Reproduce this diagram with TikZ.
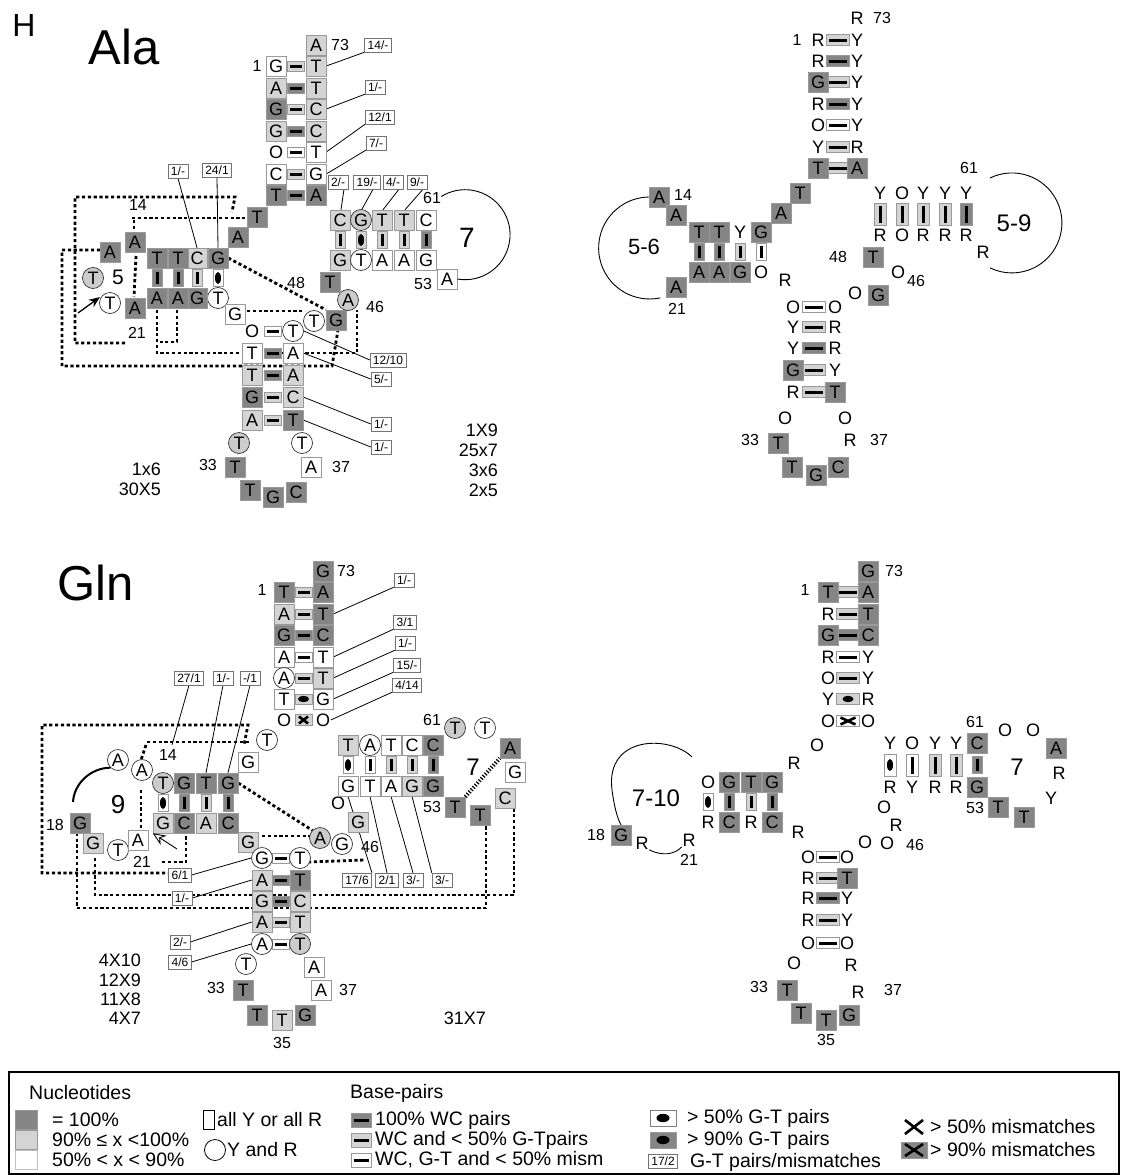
\documentclass[tikz,border=0pt]{standalone}
\usepackage{fontspec}
\setmainfont{Liberation Sans}
\usetikzlibrary{arrows.meta, positioning, backgrounds}

\newcommand\ntf{\fontsize{18}{18}\selectfont}
\newcommand\numf{\fontsize{16}{16}\selectfont}
\newcommand\annf{\fontsize{12}{12}\selectfont}
\newcommand\cntf{\fontsize{18}{18}\selectfont}
\newcommand\loopf{\fontsize{24}{24}\selectfont}
\newcommand\titf{\fontsize{49}{49}\selectfont}
\newcommand\lgdf{\fontsize{19.5}{19.5}\selectfont}

\begin{document}
\begin{tikzpicture}[x=1pt, y=-1pt,
    nt/.style={rectangle, minimum size=20pt, inner sep=0pt, font=\ntf, draw=black!40, line width=0.5pt},
    ntd/.style={nt, fill=black!48},
    ntl/.style={nt, fill=black!17},
    ntw/.style={nt, fill=white},
    ntc/.style={circle, minimum size=21pt, inner sep=0pt, font=\ntf, draw=black!80, line width=0.7pt, fill=white},
    ntcl/.style={ntc, fill=black!20},
    ntp/.style={inner sep=0.5pt, font=\ntf},
    bd/.style={fill=black!48}, bl/.style={fill=black!17}, bw/.style={fill=white},
    bbox/.style={rectangle, inner sep=0pt, draw=black!40, line width=0.5pt},
    bh/.style={bbox, minimum width=17pt, minimum height=10pt,
        path picture={\draw[black, line width=3pt] ([xshift=2.5pt]path picture bounding box.west) -- ([xshift=-2.5pt]path picture bounding box.east);}},
    bhw/.style={bh, minimum width=23pt, minimum height=11pt},
    bv/.style={bbox, minimum width=10pt, minimum height=17pt,
        path picture={\draw[black, line width=3pt] ([yshift=-2.5pt]path picture bounding box.north) -- ([yshift=2.5pt]path picture bounding box.south);}},
    bvw/.style={bv, minimum width=12pt, minimum height=22pt},
    gh/.style={bbox, minimum width=17pt, minimum height=10pt,
        path picture={\fill[black] (path picture bounding box.center) ellipse [x radius=5.5pt, y radius=3.2pt];}},
    ghw/.style={gh, minimum width=23pt, minimum height=11pt},
    ghl/.style={bbox, minimum width=26pt, minimum height=16pt,
        path picture={\fill[black] (path picture bounding box.center) ellipse [x radius=6.5pt, y radius=4.2pt];}},
    gv/.style={bbox, minimum width=10pt, minimum height=17pt,
        path picture={\fill[black] (path picture bounding box.center) ellipse [x radius=3pt, y radius=6pt];}},
    gvw/.style={gv, minimum width=12pt, minimum height=22pt},
    xh/.style={bbox, minimum width=17pt, minimum height=11pt,
        path picture={\draw[black, line width=2.6pt] ([shift={(4pt,-2pt)}]path picture bounding box.north west) -- ([shift={(-4pt,2pt)}]path picture bounding box.south east)
            ([shift={(4pt,2pt)}]path picture bounding box.south west) -- ([shift={(-4pt,-2pt)}]path picture bounding box.north east);}},
    xhw/.style={xh, minimum width=23pt},
    ann/.style={rectangle, draw=black!55, fill=white, font=\annf, inner xsep=3pt, inner ysep=1.5pt, minimum height=14pt, line width=0.5pt},
    num/.style={font=\numf, inner sep=0pt},
    cnt/.style={font=\cntf, inner sep=0pt, anchor=east},
    lpn/.style={font=\loopf, inner sep=0pt},
    lgd/.style={font=\lgdf, inner sep=0pt, anchor=west},
    tert/.style={line width=2.8pt, dash pattern=on 3.2pt off 2.6pt, black},
    lead/.style={line width=0.8pt}
]
\useasboundingbox (0,0) rectangle (1124,1175);

% ================= Ala, sequences =================
\node[font=\fontsize{32}{32}\selectfont, inner sep=0pt] (hPanel) at (24,25) {H};
\node[font=\titf, inner sep=0pt] (aTitle) at (124,47) {Ala};

% acceptor stem
\node[ntl] (aAc0) at (316,45) {A};
\node[num] (aN73) at (340,45) {73};
\node[num] (aN1) at (257,66) {1};
\foreach \i/\y/\ltA/\stA/\fl/\ltB/\stB in {1/66/G/ntw/bl/T/ntl, 2/88/A/ntl/bd/T/ntl, 3/109/G/ntd/bl/C/ntl, 4/131/G/ntl/bd/C/ntl, 5/152/O/ntp/bw/T/ntw, 6/174/C/ntw/bl/G/ntw, 7/195/T/ntd/bd/A/ntd} {
    \node[bh, \fl] (aAcB\i) at (296,\y) {};
    \node[\stA] (aAcL\i) at (276,\y) {\ltA};
    \node[\stB] (aAcR\i) at (316,\y) {\ltB};
}
\node[ann] (aK1) at (378,45) {14/-};
\node[ann] (aK2) at (375,87) {1/-};
\node[ann] (aK3) at (380,117) {12/1};
\node[ann] (aK4) at (376,143) {7/-};

% 8-9
\node[ntd] (aS8) at (257,217) {T};
\node[ntd] (aS9) at (238,237) {A};

% D stem
\foreach \i/\x/\ltA/\stA/\ty/\fl/\ltB/\stB in {1/218/G/ntd/gv/bw/T/ntc, 2/197/C/ntl/bv/bl/G/ntd, 3/178/T/ntd/bv/bd/A/ntd, 4/157/T/ntd/bv/bd/A/ntd} {
    \node[\ty, \fl] (aDB\i) at (\x,278) {};
    \node[\stA] (aDT\i) at (\x,258) {\ltA};
    \node[\stB] (aDL\i) at (\x,298) {\ltB};
}
\node[ann] (aK5) at (178,171) {1/-};
\node[ann] (aK6) at (217,170) {24/1};

% D loop
\node[ntd] (aD14) at (135,242) {A};
\node[ntd] (aD15) at (110,252) {A};
\node[ntcl] (aD16) at (93,278) {T};
\node[ntc] (aD17) at (110,303) {T};
\node[ntd] (aD21) at (135,308) {A};
\node[num] (aN14) at (138,205) {14};
\node[lpn, font=\fontsize{21}{21}\selectfont] (aN5) at (118,277) {5};
\node[num] (aN21) at (137,333) {21};
\coordinate (aArr) at (78,313);
\draw[-{Stealth[length=11pt, width=9pt]}, line width=1.3pt, shorten >=3pt] (aArr) -- (aD17.north west);
\node[ntw] (aG26) at (235,314) {G};

% anticodon stem
\foreach \i/\y/\ltA/\stA/\fl/\ltB/\stB in {1/331/O/ntp/bw/T/ntc, 2/353/T/ntw/bd/A/ntw, 3/375/T/ntl/bd/A/ntl, 4/397/G/ntd/bl/C/ntl, 5/420/A/ntl/bl/T/ntd} {
    \node[bh, \fl] (aCB\i) at (272.5,\y) {};
    \node[\stA] (aCL\i) at (252,\y) {\ltA};
    \node[\stB] (aCR\i) at (293,\y) {\ltB};
}
\node[ann] (aK7) at (388,360) {12/10};
\node[ann] (aK8) at (381,379) {5/-};
\node[ann] (aK9) at (381,424) {1/-};
\node[ann] (aK10) at (381,447) {1/-};

% anticodon loop
\node[ntcl] (aL32) at (239,443) {T};
\node[ntd] (aL33) at (235,467) {T};
\node[ntd] (aL34) at (250,490) {T};
\node[ntd] (aL35) at (273,497) {G};
\node[ntd] (aL36) at (296,492) {C};
\node[ntw] (aL37) at (311,467) {A};
\node[ntc] (aL38) at (302,443) {T};
\node[num] (aN33) at (208,465) {33};
\node[num] (aN37) at (341,467) {37};

\node[cnt] (aC1) at (161,469) {1x6};
\node[cnt] (aC2) at (161,489) {30X5};
\node[cnt] (aC3) at (498,430) {1X9};
\node[cnt] (aC4) at (498,450) {25x7};
\node[cnt] (aC5) at (498,470) {3x6};
\node[cnt] (aC6) at (498,490) {2x5};

% variable loop
\node[ntc] (aV44) at (314,321) {T};
\node[ntd] (aV45) at (336,320) {G};
\node[ntcl] (aV46) at (348,300) {A};
\node[ntd] (aV48) at (330,282) {T};
\node[num] (aN46) at (375,307) {46};
\node[num] (aN48) at (296,283) {48};

% T stem and loop
\foreach \i/\x/\ltA/\stA/\ty/\fl/\ltB/\stB in {1/340/C/ntl/bv/bl/G/ntl, 2/361/G/ntcl/gv/bl/T/ntc, 3/382/T/ntl/bv/bl/A/ntw, 4/404/T/ntl/bv/bl/A/ntw, 5/426/C/ntw/bv/bd/G/ntw} {
    \node[\ty, \fl] (aTB\i) at (\x,240) {};
    \node[\stA] (aTT\i) at (\x,220) {\ltA};
    \node[\stB] (aTL\i) at (\x,260) {\ltB};
}
\node[ann] (aK11) at (338,182) {2/-};
\node[ann] (aK12) at (367,182) {19/-};
\node[ann] (aK13) at (393,182) {4/-};
\node[ann] (aK14) at (417,182) {9/-};
\node[ntw] (aT53) at (447,279) {A};
\node[num] (aN53) at (423,284) {53};
\node[num] (aN61) at (432,198) {61};
\node[lpn, font=\fontsize{28}{28}\selectfont] (aN7) at (467,238) {7};
\draw[line width=0.9pt] (aT53.east) arc[start angle=100, end angle=-122, radius=45];

\begin{scope}[on background layer]
    \draw[lead] (aAcR1.east) -- (aK1.south west);
    \draw[lead] (aAcR3.east) -- (aK2.south west);
    \draw[lead] (aAcR5.east) -- (aK3.south west);
    \draw[lead] (aAcR6.east) -- (aK4.south west);
    \draw[lead] (aK5.south) -- (aDT2.north);
    \draw[lead] (aK6.south) -- (aDT1.north);
    \draw[lead] (aCR1.east) -- (aK7.west);
    \draw[lead] (aCR2.east) -- (aK8.west);
    \draw[lead] (aCR4.east) -- (aK9.west);
    \draw[lead] (aCR5.east) -- (aK10.west);
    \foreach \i/\j in {11/1, 12/2, 13/3, 14/4}
        \draw[lead] ([xshift=6pt]aK\i.south) -- ([xshift=1pt]aTT\j.north);
    % tertiary interactions
    \draw[tert] (125,343) -- (75,343) -- (75,197) -- (235,197) -- (232,212);
    \draw[tert] (132,218) -- (247,218);
    \draw[tert] (134,220) -- (134,234);
    \draw[tert] (136,256) -- (134,297);
    \draw[tert] (100,250) -- (62,250) -- (62,366) -- (332,366) -- (338,330);
    \draw[tert] (157,310) -- (157,353) -- (357,353) -- (357,310);
    \draw[tert] (177,310) -- (177,342) -- (160,342);
    \draw[tert] (247,311) -- (305,311);
    \draw[tert] (aDT1.east) -- (aV45.north west);
\end{scope}

% ================= Ala, consensus =================
\node[ntp] (bAc0) at (857,18) {R};
\node[num] (bN73) at (882,18) {73};
\node[num] (bN1) at (797,40) {1};
\foreach \i/\y/\ltA/\stA/\fl/\ltB/\stB in {1/40/R/ntp/bl/Y/ntp, 2/61/R/ntp/bd/Y/ntp, 3/82/G/ntd/bl/Y/ntp, 4/104/R/ntp/bd/Y/ntp, 5/125/O/ntp/bw/Y/ntp, 6/147/Y/ntp/bl/R/ntp, 7/168/T/ntd/bl/A/ntd} {
    \node[bhw, \fl] (bAcB\i) at (837.5,\y) {};
    \node[\stA] (bAcL\i) at (818,\y) {\ltA};
    \node[\stB] (bAcR\i) at (857,\y) {\ltB};
}
\node[ntd] (bS8) at (800,193) {T};
\node[ntd] (bS9) at (781,213) {A};

% D arm
\foreach \i/\x/\ltA/\stA/\ty/\fl/\ltB/\stB in {1/761/G/ntd/bv/bw/O/ntp, 2/740/Y/ntp/bv/bl/G/ntd, 3/719/T/ntd/bv/bd/A/ntd, 4/699/T/ntd/bv/bd/A/ntd} {
    \node[\ty, \fl] (bDB\i) at (\x,252) {};
    \node[\stA] (bDT\i) at (\x,232) {\ltA};
    \node[\stB] (bDL\i) at (\x,272) {\ltB};
}
\node[ntd] (bD14) at (659,197) {A};
\node[ntd] (bD15) at (676,215) {A};
\node[ntd] (bD21) at (676,287) {A};
\node[num] (bN14) at (683,195) {14};
\node[num] (bN21) at (677,309) {21};
\node[lpn, font=\fontsize{22}{22}\selectfont] (bN56) at (644,247) {5-6};
\draw[line width=0.9pt] (bD14.west) arc[start angle=269, end angle=78, radius=51];
\node[ntp] (bR26) at (785,280) {R};

% anticodon arm
\foreach \i/\y/\ltA/\stA/\fl/\ltB/\stB in {1/307/O/ntp/bw/O/ntp, 2/327/Y/ntp/bl/R/ntp, 3/348/Y/ntp/bd/R/ntp, 4/370/G/ntd/bl/Y/ntp, 5/392/R/ntp/bl/T/ntd} {
    \node[bhw, \fl] (bCB\i) at (814,\y) {};
    \node[\stA] (bCL\i) at (793,\y) {\ltA};
    \node[\stB] (bCR\i) at (835,\y) {\ltB};
}
\node[ntp] (bL32) at (785,418) {O};
\node[ntd] (bL33) at (778,443) {T};
\node[ntd] (bL34) at (792,467) {T};
\node[ntd] (bL35) at (816,475) {G};
\node[ntd] (bL36) at (838,467) {C};
\node[ntp] (bL37) at (850,440) {R};
\node[ntp] (bL38) at (845,418) {O};
\node[num] (bN33) at (750,440) {33};
\node[num] (bN37) at (879,440) {37};

% variable loop
\node[ntd] (bV48) at (873,257) {T};
\node[ntp] (bV46) at (898,272) {O};
\node[ntd] (bV45) at (878,295) {G};
\node[ntp] (bV44) at (855,293) {O};
\node[num] (bN46) at (916,281) {46};
\node[num] (bN48) at (838,257) {48};

% T arm
\foreach \i/\x/\ltA/\fl/\ltB in {1/880/Y/bl/R, 2/902/O/bl/O, 3/923/Y/bl/R, 4/945/Y/bl/R, 5/966/Y/bd/R} {
    \node[bvw, \fl] (bTB\i) at (\x,214) {};
    \node[ntp] (bTT\i) at (\x,193) {\ltA};
    \node[ntp] (bTL\i) at (\x,235) {\ltB};
}
\node[ntp] (bT57) at (983,252) {R};
\node[num] (bN61) at (969,168) {61};
\node[lpn] (bN59) at (1014,223) {5-9};
\coordinate (bArc) at (990,178);
\draw[line width=0.9pt] (bArc) arc[start angle=-116, end angle=116, radius=50];

% ================= Gln, sequences =================
\node[font=\titf, inner sep=0pt] (gTitle) at (96,583) {Gln};
\node[ntd] (gAc0) at (323,571) {G};
\node[num] (gN73) at (346,571) {73};
\node[num] (gN1) at (262,590) {1};
\foreach \i/\y/\ltA/\stA/\ty/\fl/\ltB/\stB in {1/592/T/ntd/bh/bl/A/ntd, 2/614/A/ntl/bh/bl/T/ntd, 3/635/G/ntd/bh/bd/C/ntd, 4/657/A/ntw/bh/bw/T/ntw, 5/678/A/ntc/bh/bl/T/ntl, 6/699/T/ntw/gh/bl/G/ntw, 7/720/O/ntp/xh/bl/O/ntp} {
    \node[\ty, \fl] (gAcB\i) at (303.5,\y) {};
    \node[\stA] (gAcL\i) at (284,\y) {\ltA};
    \node[\stB] (gAcR\i) at (323,\y) {\ltB};
}
\node[ann] (gK1) at (404,580) {1/-};
\node[ann] (gK2) at (405,622) {3/1};
\node[ann] (gK3) at (405,643) {1/-};
\node[ann] (gK4) at (407,665) {15/-};
\node[ann] (gK5) at (407,685) {4/14};

\node[ntc] (gS8) at (267,740) {T};
\node[ntw] (gS9) at (248,762) {G};

% D arm
\node[ann] (gK6) at (189,678) {27/1};
\node[ann] (gK7) at (223,678) {1/-};
\node[ann] (gK8) at (250,678) {-/1};
\foreach \i/\x/\ltA/\stA/\ty/\fl/\ltB/\stB in {1/163/T/ntcl/gv/bw/G/ntl, 2/184/G/ntd/bv/bd/C/ntd, 3/206/T/ntd/bv/bl/A/ntl, 4/228/G/ntd/bv/bd/C/ntd} {
    \node[\ty, \fl] (gDB\i) at (\x,803) {};
    \node[\stA] (gDT\i) at (\x,783) {\ltA};
    \node[\stB] (gDL\i) at (\x,823) {\ltB};
}
\node[ntc] (gD15) at (118,760) {A};
\node[ntc] (gD16) at (142,770) {A};
\node[ntd] (gD18) at (80,823) {G};
\node[ntl] (gD19) at (93,843) {G};
\node[ntc] (gD20) at (118,850) {T};
\node[ntw] (gD21) at (138,840) {A};
\node[num] (gN14) at (168,755) {14};
\node[lpn, font=\fontsize{26}{26}\selectfont] (gN9) at (118,805) {9};
\node[num] (gN18) at (55,825) {18};
\node[num] (gN21) at (142,862) {21};
\coordinate (gArcE) at (73,802);
\draw[line width=2pt] (gD15.south west) .. controls (90,768) and (74,784) .. (gArcE);
\coordinate (gArr) at (177,849);
\draw[-{Stealth[open, length=13pt, width=11pt]}, line width=0.9pt] (gArr) -- (gDL1.south west);
\node[ntl] (gG26) at (248,842) {G};

% anticodon arm
\foreach \i/\y/\ltA/\stA/\fl/\ltB/\stB in {1/858/G/ntc/bw/T/ntc, 2/880/A/ntl/bd/T/ntd, 3/901/G/ntl/bd/C/ntl, 4/922/A/ntl/bl/T/ntl, 5/944/A/ntc/bw/T/ntcl} {
    \node[bh, \fl] (gCB\i) at (281,\y) {};
    \node[\stA] (gCL\i) at (262,\y) {\ltA};
    \node[\stB] (gCR\i) at (300,\y) {\ltB};
}
\node[ann] (gK9) at (180,875) {6/1};
\node[ann] (gK10) at (182,898) {1/-};
\node[ann] (gK11) at (180,942) {2/-};
\node[ann] (gK12) at (180,962) {4/6};
\node[ntc] (gL32) at (246,964) {T};
\node[ntd] (gL33) at (243,990) {T};
\node[ntd] (gL34) at (257,1015) {T};
\node[ntl] (gL35) at (282,1020) {T};
\node[ntd] (gL36) at (305,1015) {G};
\node[ntw] (gL37) at (321,990) {A};
\node[ntw] (gL38) at (314,967) {A};
\node[num] (gN33) at (216,988) {33};
\node[num] (gN37) at (348,990) {37};
\node[num] (gN35) at (282,1043) {35};

\node[cnt] (gC1) at (141,960) {4X10};
\node[cnt] (gC2) at (141,980) {12X9};
\node[cnt] (gC3) at (141,999) {11X8};
\node[cnt] (gC4) at (141,1018) {4X7};
\node[cnt] (gC5) at (486,1018) {31X7};

% variable loop
\node[ntcl] (gV44) at (320,838) {A};
\node[ntc] (gV45) at (342,844) {G};
\node[ntl] (gV46) at (358,822) {G};
\node[ntp] (gV47) at (338,803) {O};
\node[num] (gN46) at (370,847) {46};

% T arm
\foreach \i/\x/\ltA/\stA/\ty/\fl/\ltB/\stB in {1/348/T/ntl/gv/bw/G/ntw, 2/370/A/ntc/bv/bw/T/ntw, 3/391/T/ntw/bv/bl/A/ntw, 4/412/C/ntw/bv/bl/G/ntl, 5/433/C/ntd/bv/bd/G/ntd} {
    \node[\ty, \fl] (gTB\i) at (\x,765) {};
    \node[\stA] (gTT\i) at (\x,745) {\ltA};
    \node[\stB] (gTL\i) at (\x,786) {\ltB};
}
\node[ntcl] (gT60) at (455,728) {T};
\node[ntc] (gT59) at (485,728) {T};
\node[ntd] (gT58) at (510,748) {A};
\node[ntw] (gT57) at (515,772) {G};
\node[ntl] (gT56) at (505,798) {C};
\node[ntd] (gT55) at (480,815) {T};
\node[ntd] (gT54) at (455,807) {T};
\node[num] (gN61) at (432,720) {61};
\node[num] (gN53) at (432,807) {53};
\node[lpn] (gN7) at (473,767) {7};
\node[ann] (gK13) at (357,880) {17/6};
\node[ann] (gK14) at (387,880) {2/1};
\node[ann] (gK15) at (413,880) {3/-};
\node[ann] (gK16) at (442,880) {3/-};
\coordinate (gX14) at (172,745);

\begin{scope}[on background layer]
    \draw[lead] (gAcR2.east) -- (gK1.south west);
    \draw[lead] (gAcR4.east) -- (gK2.south west);
    \draw[lead] (gAcR5.east) -- (gK3.south west);
    \draw[lead] (gAcR6.east) -- (gK4.south west);
    \draw[lead] (gAcR7.east) -- (gK5.south west);
    \draw[lead] (gK6.south) -- (gX14);
    \draw[lead] (gK7.south) -- (gDT3.north);
    \draw[lead] (gK8.south) -- (gDT4.north);
    \draw[lead] (gK9.east) -- (gCL1.west);
    \draw[lead] (gK10.east) -- (gCL2.west);
    \draw[lead] (gK11.east) -- (gCL4.west);
    \draw[lead] (gK12.east) -- (gCL5.west);
    \draw[lead] (gTL1.south) -- (gK13.north east);
    \draw[lead] (gTL2.south) -- (gK14.north);
    \draw[lead] (gTL3.south) -- (gK15.north);
    \draw[lead] (gTL4.south) -- (gK16.north west);
    % tertiary interactions
    \draw[tert] (171,873) -- (42,873) -- (42,725) -- (248,725) -- (244,745);
    \draw[tert] (147,742) -- (250,742);
    \draw[tert] (146,745) -- (141,760);
    \draw[tert] (141,790) -- (141,835);
    \draw[tert] (77,827) -- (77,908) -- (486,908) -- (486,826);
    \draw[tert] (95,858) -- (95,895) -- (514,895) -- (514,808);
    \draw[tert] (162,862) -- (186,862) -- (186,833);
    \draw[tert] (262,836) -- (318,836);
    \draw[tert] (308,862) -- (364,860);
    \draw[tert] (gDT4.east) -- (gV44.north west);
    \draw[line width=4pt, dash pattern=on 1.2pt off 1.8pt] (gT54.north east) -- (gT58.south west);
\end{scope}

% ================= Gln, consensus =================
\node[ntd] (hAc0) at (868,571) {G};
\node[num] (hN73) at (894,571) {73};
\node[num] (hN1) at (805,590) {1};
\foreach \i/\y/\ltA/\stA/\ty/\fl/\ltB/\stB in {1/592/T/ntd/bhw/bl/A/ntd, 2/614/R/ntp/bhw/bl/T/ntd, 3/635/G/ntd/bhw/bd/C/ntd, 4/657/R/ntp/bhw/bw/Y/ntp, 5/678/O/ntp/bhw/bl/Y/ntp, 6/699/Y/ntp/ghw/bl/R/ntp, 7/721/O/ntp/xhw/bw/O/ntp} {
    \node[\ty, \fl] (hAcB\i) at (848,\y) {};
    \node[\stA] (hAcL\i) at (828,\y) {\ltA};
    \node[\stB] (hAcR\i) at (868,\y) {\ltB};
}
\node[ntp] (hS8) at (817,745) {O};
\node[ntp] (hS9) at (794,763) {R};

% D arm
\foreach \i/\x/\ltA/\stA/\ty/\fl/\ltB/\stB in {1/708/O/ntp/gv/bw/R/ntp, 2/729/G/ntd/bv/bd/C/ntd, 3/751/T/ntd/bv/bl/R/ntp, 4/772/G/ntd/bv/bd/C/ntd} {
    \node[\ty, \fl] (hDB\i) at (\x,802) {};
    \node[\stA] (hDT\i) at (\x,782) {\ltA};
    \node[\stB] (hDL\i) at (\x,822) {\ltB};
}
\node[ntp] (hR26) at (798,832) {R};
\node[ntd] (hD18) at (621,835) {G};
\node[ntp] (hD19) at (642,843) {R};
\node[ntp] (hD20) at (689,840) {R};
\node[num] (hN18) at (596,835) {18};
\node[num] (hN21) at (689,860) {21};
\node[lpn] (hN710) at (656,798) {7-10};
\coordinate (hArcS) at (692,757);
\draw[line width=0.9pt] (hArcS) .. controls (670,735) and (605,735) .. (612,790) .. controls (614,805) and (617,818) .. (hD18.north);
\draw[line width=0.9pt] (hD19.south east) .. controls (662,856) and (674,855) .. (hD20.south west);

% variable loop
\node[ntp] (hV48) at (884,807) {O};
\node[ntp] (hV47) at (896,825) {R};
\node[ntp] (hV45) at (865,842) {O};
\node[ntp] (hV46) at (887,843) {O};
\node[num] (hN46) at (915,845) {46};

% T arm
\foreach \i/\x/\ltA/\stA/\ty/\fl/\ltB/\stB in {1/890/Y/ntp/gvw/bw/R/ntp, 2/912/O/ntp/bvw/bw/Y/ntp, 3/935/Y/ntp/bvw/bl/R/ntp, 4/956/Y/ntp/bvw/bl/R/ntp, 5/977/C/ntd/bv/bd/G/ntd} {
    \node[\ty, \fl] (hTB\i) at (\x,765) {};
    \node[\stA] (hTT\i) at (\x,743) {\ltA};
    \node[\stB] (hTL\i) at (\x,787) {\ltB};
}
\node[num] (hN61) at (975,722) {61};
\node[ntp] (hT60) at (1005,730) {O};
\node[ntp] (hT59) at (1033,730) {O};
\node[ntd] (hT58) at (1056,748) {A};
\node[ntp] (hT57) at (1059,773) {R};
\node[ntp] (hT56) at (1051,798) {Y};
\node[ntd] (hT55) at (1024,817) {T};
\node[ntd] (hT54) at (998,807) {T};
\node[num] (hN53) at (975,808) {53};
\node[lpn] (hN7) at (1017,767) {7};

% anticodon arm
\foreach \i/\y/\ltA/\stA/\fl/\ltB/\stB in {1/857/O/ntp/bw/O/ntp, 2/878/R/ntp/bl/T/ntd, 3/898/R/ntp/bd/Y/ntp, 4/920/R/ntp/bl/Y/ntp, 5/943/O/ntp/bw/O/ntp} {
    \node[bhw, \fl] (hCB\i) at (828,\y) {};
    \node[\stA] (hCL\i) at (808,\y) {\ltA};
    \node[\stB] (hCR\i) at (847,\y) {\ltB};
}
\node[ntp] (hL32) at (794,963) {O};
\node[ntd] (hL33) at (787,990) {T};
\node[ntd] (hL34) at (801,1013) {T};
\node[ntd] (hL35) at (826,1020) {T};
\node[ntd] (hL36) at (849,1015) {G};
\node[ntp] (hL37) at (858,992) {R};
\node[ntp] (hL38) at (851,965) {R};
\node[num] (hN33) at (759,987) {33};
\node[num] (hN37) at (893,990) {37};
\node[num] (hN35) at (826,1040) {35};

% ================= legend =================
\node[draw, line width=1.2pt, minimum width=1110pt, minimum height=102pt, inner sep=0pt] (kFrame) at (564,1123) {};
\node[lgd] (kNuc) at (29,1093) {Nucleotides};
\node[nt, fill=black!48, minimum width=22pt, minimum height=19pt] (kS1) at (26,1120) {};
\node[nt, fill=black!17, minimum width=22pt, minimum height=19pt] (kS2) at (26,1140) {};
\node[nt, fill=white, draw=black!25, minimum width=22pt, minimum height=19pt] (kS3) at (26,1160) {};
\node[lgd] (kS1t) at (52,1120) {= 100\%};
\node[lgd] (kS2t) at (52,1140) {90\% ≤ x <100\%};
\node[lgd] (kS3t) at (52,1160) {50\% < x < 90\%};
\node[draw, line width=0.8pt, minimum width=11pt, minimum height=19pt, inner sep=0pt] (kBox) at (209,1120) {};
\node[lgd] (kBoxt) at (217,1120) {all Y or all R};
\node[circle, draw, line width=0.8pt, minimum size=21pt, inner sep=0pt] (kCirc) at (215,1150) {};
\node[lgd] (kCirct) at (227,1150) {Y and R};

\node[lgd] (kBp) at (350,1093) {Base-pairs};
\node[bh, bd, minimum width=20pt, minimum height=14pt] (kB1) at (361,1120) {};
\node[bh, bl, minimum width=20pt, minimum height=14pt] (kB2) at (361,1140) {};
\node[bh, bw, minimum width=20pt, minimum height=14pt] (kB3) at (361,1160) {};
\node[lgd] (kB1t) at (375,1120) {100\% WC pairs};
\node[lgd] (kB2t) at (375,1140) {WC and < 50\% G-Tpairs};
\node[lgd] (kB3t) at (375,1160) {WC, G-T and < 50\% mism};

\node[ghl, bw, draw=black!50] (kG1) at (663,1118) {};
\node[ghl, bd] (kG2) at (663,1140) {};
\node[lgd] (kG1t) at (687,1118) {> 50\% G-T pairs};
\node[lgd] (kG2t) at (687,1140) {> 90\% G-T pairs};
\node[ann] (kA) at (663,1161) {17/2};
\node[lgd] (kAt) at (690,1162) {G-T pairs/mismatches};

\node[xh, bw, draw=none, minimum width=26pt, minimum height=18pt] (kX1) at (914,1127) {};
\node[xh, bd, minimum width=26pt, minimum height=16pt] (kX2) at (914,1150) {};
\node[lgd] (kX1t) at (930,1127) {> 50\% mismatches};
\node[lgd] (kX2t) at (930,1150) {> 90\% mismatches};
\end{tikzpicture}
\end{document}
